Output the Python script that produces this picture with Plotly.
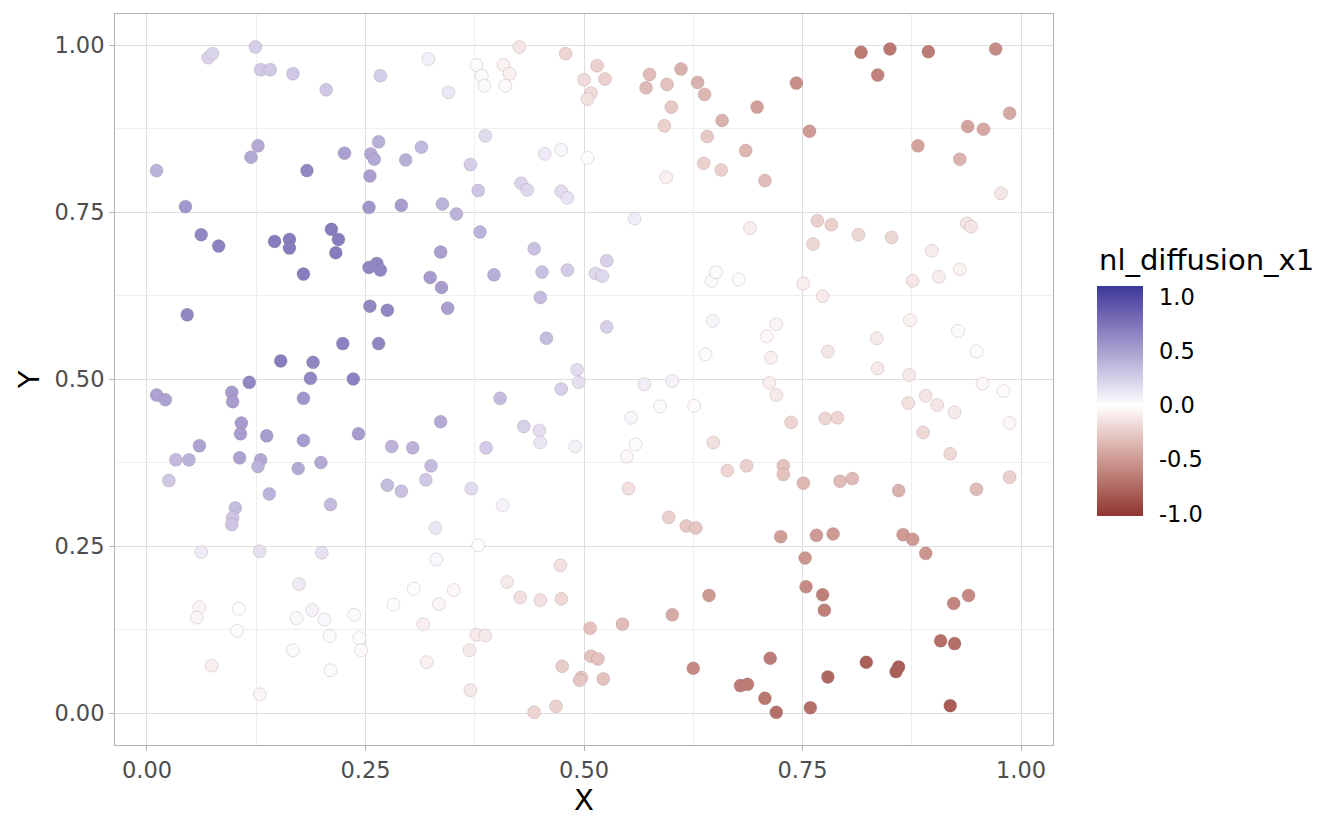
import plotly.graph_objects as go

# ---- data ----
x_vals = [
0.070,0.075,0.124,0.130,0.141,0.167,0.205,0.267,0.322,0.011,
0.127,0.119,0.183,0.226,0.265,0.256,0.260,0.296,0.314,0.255,
0.044,0.254,0.291,0.062,0.082,0.146,0.163,0.163,0.211,0.219,
0.216,0.338,0.354,0.381,0.336,0.443,0.345,0.377,0.383,0.386,
0.408,0.415,0.410,0.426,0.479,0.515,0.500,0.524,0.508,0.504,
0.575,0.611,0.571,0.595,0.630,0.638,0.600,0.592,0.658,0.641,
0.637,0.657,0.594,0.504,0.474,0.455,0.387,0.370,0.379,0.428,
0.435,0.474,0.481,0.558,0.526,
0.817,0.850,0.894,0.971,0.836,0.743,0.698,0.758,0.685,0.707,
0.882,0.939,0.957,0.987,0.930,0.977,0.690,0.767,0.783,0.762,
0.814,0.852,0.938,0.943,0.898,0.930,
0.254,0.263,0.267,0.179,0.324,0.046,0.255,0.275,0.224,0.265,
0.153,0.190,0.187,0.236,0.117,0.011,0.021,0.097,0.098,0.179,
0.108,0.107,0.137,0.179,0.242,0.060,0.033,0.048,0.106,0.130,
0.127,0.173,0.199,0.025,0.280,0.304,0.325,0.319,0.275,0.291,
0.140,0.101,0.210,
0.337,0.344,0.397,0.452,0.481,0.513,0.521,0.450,0.526,0.457,
0.646,0.651,0.677,0.647,0.639,0.492,0.494,0.474,0.404,0.336,
0.431,0.449,0.450,0.388,0.490,0.569,0.601,0.587,0.626,0.554,
0.559,0.549,0.648,0.664,0.551,0.371,0.407,
0.751,0.773,0.876,0.906,0.720,0.709,0.714,0.779,0.835,0.873,
0.928,0.949,0.836,0.872,0.712,0.720,0.956,0.980,0.891,0.871,
0.904,0.924,0.987,0.737,0.776,0.790,0.888,0.919,0.686,0.728,
0.728,0.751,0.793,0.807,0.860,0.949,0.987,
0.098,0.097,0.330,0.062,0.129,0.200,0.331,0.174,0.305,0.282,
0.334,0.316,0.320,0.060,0.057,0.105,0.103,0.074,0.171,0.189,
0.203,0.237,0.209,0.243,0.167,0.245,0.210,0.129,
0.379,0.351,0.412,0.473,0.427,0.450,0.474,0.377,0.387,0.369,
0.370,0.443,0.468,0.507,0.544,0.475,0.508,0.516,0.497,0.495,
0.522,0.597,0.617,0.628,0.601,0.643,0.625,0.679,0.687,
0.725,0.766,0.785,0.865,0.876,0.891,0.753,0.754,0.773,0.775,
0.923,0.940,0.908,0.924,0.713,0.823,0.860,0.857,0.779,0.707,
0.720,0.759,0.919,
]

y_vals = [
0.981,0.987,0.997,0.963,0.963,0.957,0.933,0.954,0.979,0.812,
0.849,0.832,0.812,0.838,0.855,0.837,0.829,0.828,0.847,0.804,
0.758,0.757,0.760,0.716,0.699,0.706,0.709,0.696,0.724,0.709,
0.689,0.762,0.747,0.720,0.690,0.695,0.929,0.970,0.954,0.939,
0.970,0.957,0.939,0.997,0.987,0.969,0.948,0.949,0.928,0.919,
0.956,0.964,0.936,0.941,0.944,0.926,0.907,0.879,0.887,0.863,
0.823,0.813,0.802,0.831,0.843,0.837,0.864,0.821,0.782,0.793,
0.783,0.781,0.771,0.740,0.677,
0.989,0.994,0.990,0.994,0.955,0.943,0.907,0.871,0.842,0.797,
0.849,0.878,0.874,0.898,0.829,0.778,0.726,0.737,0.731,0.702,
0.716,0.712,0.733,0.728,0.692,0.664,
0.667,0.673,0.663,0.657,0.652,0.596,0.609,0.603,0.553,0.553,
0.527,0.525,0.501,0.500,0.495,0.476,0.469,0.480,0.466,0.471,
0.434,0.418,0.415,0.408,0.418,0.400,0.379,0.379,0.382,0.379,
0.369,0.366,0.375,0.348,0.399,0.397,0.370,0.349,0.341,0.332,
0.328,0.307,0.312,
0.637,0.606,0.656,0.660,0.663,0.658,0.654,0.622,0.578,0.561,
0.647,0.660,0.649,0.587,0.537,0.514,0.495,0.485,0.471,0.436,
0.429,0.423,0.405,0.397,0.399,0.492,0.497,0.459,0.460,0.442,
0.402,0.384,0.405,0.363,0.336,0.336,0.311,
0.643,0.624,0.647,0.653,0.582,0.564,0.532,0.541,0.561,0.588,
0.572,0.541,0.516,0.506,0.494,0.476,0.493,0.482,0.475,0.464,
0.461,0.450,0.434,0.435,0.441,0.442,0.420,0.388,0.370,0.370,
0.357,0.344,0.347,0.351,0.333,0.335,0.353,
0.292,0.282,0.277,0.241,0.242,0.240,0.230,0.193,0.186,0.162,
0.163,0.133,0.076,0.158,0.143,0.156,0.123,0.071,0.142,0.154,
0.140,0.147,0.115,0.112,0.094,0.094,0.064,0.028,
0.251,0.184,0.196,0.221,0.173,0.169,0.171,0.117,0.116,0.094,
0.034,0.001,0.010,0.127,0.133,0.070,0.085,0.081,0.053,0.049,
0.051,0.293,0.280,0.277,0.147,0.176,0.067,0.041,0.043,
0.264,0.266,0.268,0.267,0.260,0.239,0.232,0.189,0.177,0.154,
0.164,0.176,0.108,0.104,0.082,0.076,0.069,0.062,0.054,0.022,
0.001,0.008,0.011,
]

nl_diffusion_x1 = [
0.22,0.22,0.25,0.27,0.27,0.28,0.28,0.25,0.08,0.40,
0.45,0.45,0.64,0.50,0.42,0.45,0.45,0.42,0.37,0.50,
0.55,0.55,0.52,0.64,0.67,0.70,0.70,0.70,0.70,0.70,
0.70,0.40,0.40,0.40,0.50,0.32,0.12,0.02,0.02,0.03,
-0.06,-0.07,-0.02,-0.12,-0.20,-0.22,-0.17,-0.22,-0.17,-0.14,
-0.33,-0.38,-0.33,-0.30,-0.38,-0.36,-0.27,-0.22,-0.38,-0.27,
-0.22,-0.22,-0.07,0.00,0.04,0.10,0.18,0.25,0.30,0.22,
0.20,0.18,0.14,0.09,0.24,
-0.65,-0.67,-0.65,-0.57,-0.62,-0.55,-0.47,-0.50,-0.36,-0.32,
-0.45,-0.45,-0.43,-0.42,-0.37,-0.12,-0.08,-0.22,-0.22,-0.19,
-0.19,-0.19,-0.12,-0.12,-0.09,-0.06,
0.64,0.64,0.64,0.70,0.52,0.64,0.64,0.64,0.67,0.64,
0.70,0.64,0.64,0.67,0.64,0.48,0.48,0.52,0.52,0.55,
0.52,0.52,0.52,0.52,0.52,0.48,0.35,0.40,0.48,0.45,
0.40,0.45,0.45,0.28,0.40,0.40,0.35,0.28,0.35,0.32,
0.40,0.35,0.35,
0.52,0.50,0.42,0.32,0.26,0.20,0.20,0.35,0.24,0.35,
0.03,0.02,0.00,0.05,0.02,0.18,0.16,0.24,0.35,0.45,
0.24,0.17,0.13,0.27,0.07,0.09,0.06,0.02,-0.02,0.05,
-0.02,-0.04,-0.15,-0.20,-0.15,0.18,0.06,
-0.08,-0.10,-0.12,-0.08,-0.05,-0.04,-0.07,-0.12,-0.10,-0.06,
-0.02,-0.01,-0.10,-0.10,-0.08,-0.10,-0.04,-0.02,-0.12,-0.15,
-0.12,-0.10,-0.04,-0.20,-0.20,-0.20,-0.18,-0.18,-0.23,-0.30,
-0.30,-0.35,-0.33,-0.33,-0.38,-0.33,-0.22,
0.30,0.30,0.12,0.10,0.15,0.15,0.04,0.10,0.00,0.00,
-0.05,-0.08,-0.07,-0.05,-0.05,0.00,-0.01,-0.08,0.03,0.06,
0.04,0.03,0.02,0.00,-0.02,-0.02,-0.01,-0.05,
0.00,-0.04,-0.10,-0.15,-0.15,-0.15,-0.18,-0.10,-0.10,-0.10,
-0.10,-0.20,-0.22,-0.30,-0.33,-0.25,-0.30,-0.30,-0.28,-0.28,
-0.30,-0.22,-0.27,-0.28,-0.42,-0.50,-0.58,-0.65,-0.65,
-0.48,-0.50,-0.50,-0.50,-0.50,-0.52,-0.52,-0.58,-0.63,-0.63,
-0.60,-0.58,-0.72,-0.72,-0.65,-0.80,-0.80,-0.80,-0.76,-0.68,
-0.72,-0.72,-0.82,
]

legend_title = "nl_diffusion_x1"
x_ticks = [0.0, 0.25, 0.5, 0.75, 1.0]
y_ticks = [0.0, 0.25, 0.5, 0.75, 1.0]
cbar_ticks = [-1.0, -0.5, 0.0, 0.5, 1.0]
cbar_labels = ['-1.0', '-0.5', '0.0', '0.5', '1.0']
c_low, c_high = -1.02, 1.10

# ---- ggplot2 gradient2 (Lab interpolation) colour scale ----
def hex2rgb(h):
    h = h.lstrip('#')
    return [int(h[i:i+2], 16) for i in (0, 2, 4)]

WHITE = (0.95047, 1.0, 1.08883)

def rgb2lab(rgb):
    lin = []
    for c in rgb:
        c = c / 255.0
        lin.append(c / 12.92 if c <= 0.04045 else ((c + 0.055) / 1.055) ** 2.4)
    r, g, b = lin
    X = (0.4124 * r + 0.3576 * g + 0.1805 * b) / WHITE[0]
    Y = (0.2126 * r + 0.7152 * g + 0.0722 * b) / WHITE[1]
    Z = (0.0193 * r + 0.1192 * g + 0.9505 * b) / WHITE[2]
    f = lambda t: t ** (1 / 3) if t > 0.008856 else 7.787 * t + 16 / 116
    fx, fy, fz = f(X), f(Y), f(Z)
    return (116 * fy - 16, 500 * (fx - fy), 200 * (fy - fz))

def lab2rgb(lab):
    L, a, b = lab
    fy = (L + 16) / 116
    fx = fy + a / 500
    fz = fy - b / 200
    finv = lambda t: t ** 3 if t ** 3 > 0.008856 else (t - 16 / 116) / 7.787
    X, Y, Z = finv(fx) * WHITE[0], finv(fy) * WHITE[1], finv(fz) * WHITE[2]
    r = 3.2406 * X - 1.5372 * Y - 0.4986 * Z
    g = -0.9689 * X + 1.8758 * Y + 0.0415 * Z
    bb = 0.0557 * X - 0.2040 * Y + 1.0570 * Z
    out = []
    for c in (r, g, bb):
        c = c * 12.92 if c <= 0.0031308 else 1.055 * c ** (1 / 2.4) - 0.055
        out.append(int(round(max(0, min(1, c)) * 255)))
    return 'rgb(%d,%d,%d)' % tuple(out)

lab_low = rgb2lab(hex2rgb('#832424'))
lab_mid = rgb2lab(hex2rgb('#FFFFFF'))
lab_high = rgb2lab(hex2rgb('#3A3A98'))

def ramp(t):
    if t <= 0.5:
        a, b, u = lab_low, lab_mid, t / 0.5
    else:
        a, b, u = lab_mid, lab_high, (t - 0.5) / 0.5
    return lab2rgb([a[i] + (b[i] - a[i]) * u for i in range(3)])

half = max(abs(c_low), abs(c_high))
n_stops = 61
colorscale = []
for i in range(n_stops):
    p = i / (n_stops - 1)
    v = c_low + p * (c_high - c_low)
    colorscale.append([p, ramp(0.5 + v / (2 * half))])

# ---- figure ----
FONT = "DejaVu Sans"
TICK_SIZE = 22.5
TITLE_SIZE = 29

fig = go.Figure()
fig.add_trace(go.Scatter(
    x=x_vals, y=y_vals, mode='markers',
    marker=dict(
        size=13,
        color=nl_diffusion_x1,
        colorscale=colorscale,
        cmin=c_low, cmax=c_high,
        line=dict(width=0.6, color='rgba(140,95,110,0.35)'),
        colorbar=dict(
            thickness=46, thicknessmode='pixels',
            len=230, lenmode='pixels',
            x=1.0469, xanchor='left', xref='paper',
            y=0.4706, yanchor='middle', yref='paper',
            tickvals=cbar_ticks, ticktext=cbar_labels,
            ticks='outside', ticklen=12, tickcolor='rgba(255,255,255,0)', tickwidth=1,
            tickfont=dict(family=FONT, size=TICK_SIZE, color='#000000'),
            outlinewidth=0, xpad=0, ypad=0,
        ),
    ),
    showlegend=False,
    hoverinfo='skip',
))

fig.add_annotation(
    text=legend_title, xref='paper', yref='paper',
    x=1.0469, y=0.664, xanchor='left', yanchor='middle',
    showarrow=False, font=dict(family=FONT, size=TITLE_SIZE, color='#000000'),
)

axis_common = dict(
    showgrid=True, gridcolor='#DEDEDE', gridwidth=1,
    zeroline=False,
    showline=True, linecolor='#B3B3B3', linewidth=1, mirror=True,
    ticks='outside', ticklen=5, tickcolor='#B3B3B3', tickwidth=1,
    tickfont=dict(family=FONT, size=TICK_SIZE, color='#4D4D4D'),
    tickformat='.2f',
    minor=dict(dtick=0.125, showgrid=True, gridcolor='#EFEFEF', gridwidth=0.6, ticks=''),
    automargin=False,
)

fig.update_layout(
    width=1336, height=822,
    margin=dict(l=107, r=291, t=6, b=85),
    paper_bgcolor='white', plot_bgcolor='white',
    font=dict(family=FONT, color='#000000'),
    xaxis=dict(range=[-0.0366, 1.0366], tickvals=x_ticks,
               title=dict(text='X', font=dict(family=FONT, size=TITLE_SIZE, color='#000000'), standoff=6),
               **axis_common),
    yaxis=dict(range=[-0.0479, 1.0464], tickvals=y_ticks,
               title=dict(text='Y', font=dict(family=FONT, size=TITLE_SIZE, color='#000000'), standoff=6),
               **axis_common),
)

fig.write_html("out.html")
